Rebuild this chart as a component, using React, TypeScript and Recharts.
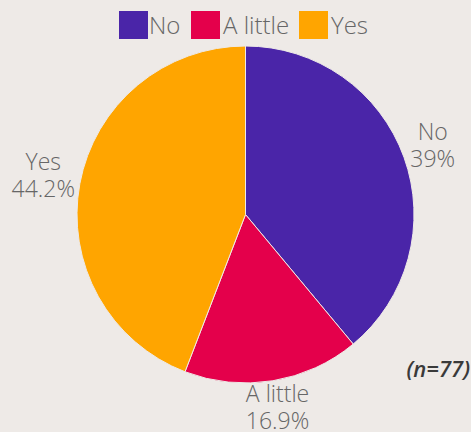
import { PieChart, Pie, Cell } from "recharts";

const categories = ["No", "A little", "Yes"];
const shares = [39, 16.9, 44.2];
const shareLabels = ["39%", "16.9%", "44.2%"];
const colors = ["#4A25A8", "#E4004B", "#FFA500"];
const sampleNote = "(n=77)";

const BG = "#EEEAE7";
const TEXT = "#666666";
const FONT = "'Open Sans', sans-serif";
const LABEL_SIZE = 23;

const data = categories.map((name, i) => ({ name, value: shares[i], label: shareLabels[i] }));

const RADIAN = Math.PI / 180;

let ctx: CanvasRenderingContext2D | null = null;
function textWidth(s: string) {
  if (!ctx) ctx = document.createElement("canvas").getContext("2d");
  if (!ctx) return s.length * 13;
  ctx.font = `300 ${LABEL_SIZE}px ${FONT}`;
  return ctx.measureText(s).width;
}

function renderLabel(props: any) {
  const { cx, cy, midAngle, outerRadius, index } = props;
  const d = data[index];
  const halfW = Math.max(textWidth(d.name), textWidth(d.label)) / 2;
  const halfH = 22;
  const c = Math.cos(-midAngle * RADIAN);
  const s = Math.sin(-midAngle * RADIAN);
  const r = outerRadius + 2 + halfW * Math.abs(c) + halfH * Math.abs(s);
  const x = cx + r * c;
  const y = cy + r * s;
  return (
    <text
      x={x}
      y={y}
      textAnchor="middle"
      fill={TEXT}
      fontFamily={FONT}
      fontWeight={300}
      fontSize={LABEL_SIZE}
    >
      <tspan x={x} dy={-7}>{d.name}</tspan>
      <tspan x={x} dy={27}>{d.label}</tspan>
    </text>
  );
}

function LegendRow() {
  const items = [
    { x: 119, tx: 149 },
    { x: 191, tx: 223 },
    { x: 299, tx: 331 },
  ];
  return (
    <g>
      {data.map((d, i) => (
        <g key={d.name}>
          <rect x={items[i].x} y={11} width={29} height={28} fill={colors[i]} />
          <text
            x={items[i].tx}
            y={34}
            fill={TEXT}
            fontFamily={FONT}
            fontWeight={300}
            fontSize={24}
          >
            {d.name}
          </text>
        </g>
      ))}
    </g>
  );
}

export default function App() {
  return (
    <div style={{ position: "fixed", left: 0, top: 0, width: 471, height: 432, background: BG }}>
      <PieChart width={471} height={432} margin={{ top: 0, right: 0, bottom: 0, left: 0 }}>
        <Pie
          data={data}
          dataKey="value"
          nameKey="name"
          cx={245.5}
          cy={214.5}
          outerRadius={168.5}
          startAngle={90}
          endAngle={-270}
          stroke={BG}
          strokeWidth={1}
          label={renderLabel}
          labelLine={false}
          isAnimationActive={false}
        >
          {data.map((d, i) => (
            <Cell key={d.name} fill={colors[i]} />
          ))}
        </Pie>
        <LegendRow />
        <text
          x={470}
          y={377}
          textAnchor="end"
          fill="#3a3a3a"
          fontFamily={FONT}
          fontWeight={600}
          fontStyle="italic"
          fontSize={22}
        >
          {sampleNote}
        </text>
      </PieChart>
    </div>
  );
}
